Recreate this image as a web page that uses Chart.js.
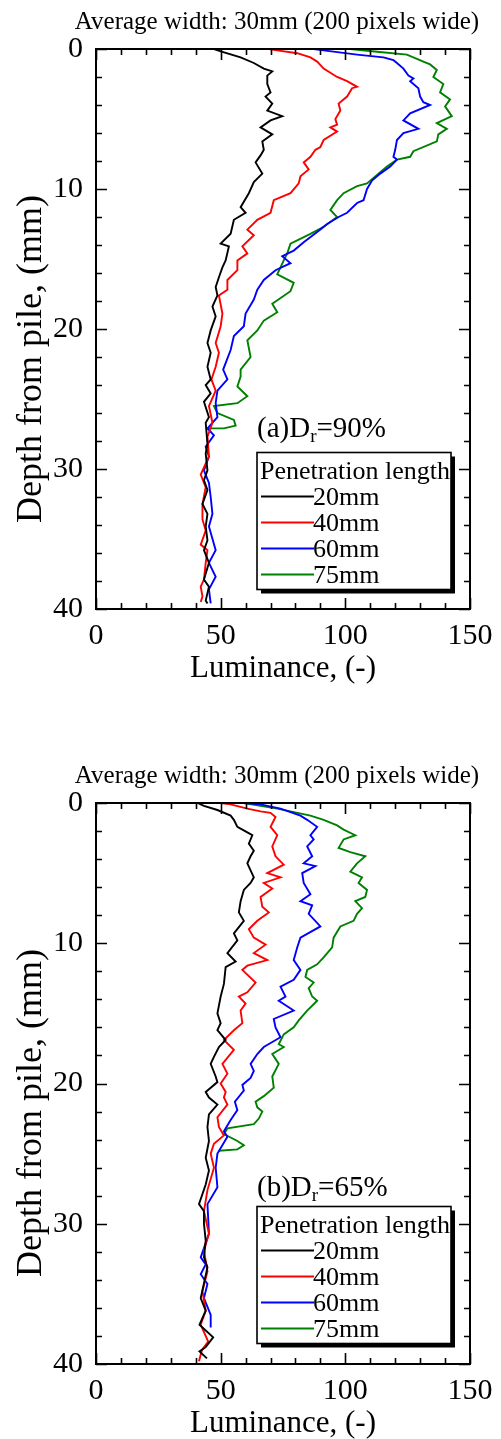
<!DOCTYPE html>
<html>
<head>
<meta charset="utf-8">
<script src="https://cdn.jsdelivr.net/npm/chart.js@4.4.1/dist/chart.umd.min.js"></script>
<style>
  html, body { margin: 0; padding: 0; background: #fff; }
  canvas { position: absolute; left: 0; }
  #chartA { top: 0; }
  #chartB { top: 720px; }
</style>
</head>
<body>
<canvas id="chartA" width="501" height="720"></canvas>
<canvas id="chartB" width="501" height="719"></canvas>
<script>
// Luminance profiles vs depth from pile, averaged over 30 mm (200 px) width.
const seriesLabels = ['20mm', '40mm', '60mm', '75mm'];
const seriesColors = ['#000000', '#ff0000', '#0000ff', '#008000'];
const xTickLabels = [0, 50, 100, 150];
const yTickLabels = [0, 10, 20, 30, 40];

// (a) Dr = 90%
const depthA20 = [0, 0.2, 0.6, 1.0, 1.4, 1.6, 1.9, 2.5, 3.1, 3.4, 3.9, 4.4, 4.8, 5.1, 5.6, 6.1, 6.6, 7.2, 7.6, 8.1, 8.9, 9.5, 10.3, 11.3, 11.7, 12.2, 13.2, 13.9, 14.1, 15.1, 15.6, 16.3, 17.0, 17.6, 18.4, 19.1, 20.1, 21.0, 21.7, 22.7, 23.6, 24.0, 24.6, 25.2, 26.3, 26.7, 28.2, 28.9, 30.1, 30.8, 31.5, 32.5, 33.2, 34.1, 35.1, 35.8, 36.7, 37.9, 38.4, 39.4, 39.6];
const lumA20 = [47.3, 50.7, 58.0, 63.3, 67.3, 70.7, 68.7, 68.7, 70.0, 68.0, 70.7, 68.7, 74.7, 70.0, 66.0, 70.7, 66.7, 67.3, 66.0, 64.0, 66.7, 63.3, 61.3, 58.0, 60.0, 55.3, 54.0, 50.0, 53.3, 52.0, 50.7, 49.3, 48.0, 48.7, 46.7, 48.0, 46.0, 44.7, 46.0, 44.7, 46.0, 44.0, 46.0, 43.3, 45.3, 44.0, 44.7, 44.0, 44.7, 43.3, 44.7, 42.7, 44.7, 44.0, 44.7, 43.3, 45.3, 43.3, 45.3, 44.0, 44.7];

const depthA40 = [0, 0.1, 0.3, 0.6, 0.9, 1.4, 2.0, 2.3, 2.7, 2.8, 3.4, 3.9, 4.4, 5.0, 5.4, 5.6, 5.9, 6.5, 7.0, 7.2, 7.7, 8.1, 8.6, 9.1, 9.6, 10.3, 10.8, 11.7, 12.2, 12.9, 13.3, 14.1, 14.6, 15.1, 15.8, 16.5, 17.2, 17.6, 18.9, 19.8, 21.0, 21.7, 22.7, 23.6, 24.4, 25.5, 26.7, 27.7, 29.1, 30.4, 31.3, 32.5, 33.6, 34.4, 35.4, 35.8, 36.7, 37.9, 38.4, 39.1, 39.5];
const lumA40 = [69.3, 72.7, 80.7, 86.0, 88.7, 91.3, 96.7, 100.7, 104.7, 102.7, 100.7, 97.3, 98.0, 96.0, 96.7, 94.0, 96.7, 91.3, 90.0, 88.0, 86.0, 83.3, 85.3, 82.0, 81.3, 78.0, 71.3, 70.0, 64.7, 60.7, 63.3, 58.7, 60.7, 56.7, 56.7, 52.7, 52.7, 49.3, 50.7, 50.0, 48.0, 49.3, 48.0, 46.3, 48.0, 45.3, 46.7, 44.7, 45.3, 42.0, 44.0, 42.7, 42.7, 44.0, 42.0, 44.7, 44.0, 43.3, 42.0, 42.7, 42.0];

const depthA60 = [0, 0.1, 0.4, 0.6, 0.8, 1.0, 1.4, 1.9, 2.1, 2.3, 2.8, 3.4, 3.8, 4.0, 4.6, 5.1, 5.7, 6.0, 6.5, 7.2, 7.7, 7.9, 8.4, 8.9, 9.4, 10.0, 10.8, 11.0, 11.7, 12.0, 12.5, 12.9, 13.8, 14.4, 14.8, 15.3, 15.8, 16.5, 17.2, 17.9, 18.9, 19.8, 20.5, 21.5, 22.9, 23.6, 24.4, 25.3, 26.3, 27.1, 27.6, 28.4, 29.1, 30.1, 31.0, 32.0, 33.2, 34.1, 35.8, 36.7, 37.7, 38.6, 39.6];
const lumA60 = [87.3, 91.3, 104.7, 115.3, 119.3, 120.7, 123.3, 125.3, 127.3, 126.0, 129.3, 130.0, 131.3, 134.0, 126.0, 123.3, 129.3, 123.3, 120.7, 120.0, 119.3, 120.7, 118.0, 114.0, 110.7, 108.7, 107.3, 104.7, 100.7, 97.3, 92.7, 90.0, 83.3, 79.3, 74.7, 78.0, 72.0, 67.3, 64.7, 63.3, 60.0, 59.3, 55.3, 54.0, 51.0, 52.7, 48.7, 48.0, 48.7, 44.7, 47.3, 44.0, 45.3, 43.3, 45.3, 46.0, 46.7, 45.3, 48.0, 45.3, 48.0, 45.3, 46.0];

const depthA75 = [0, 0.2, 0.4, 0.9, 1.1, 1.5, 2.0, 2.5, 3.1, 3.6, 4.1, 4.8, 5.3, 5.7, 6.1, 6.6, 7.3, 7.7, 7.9, 8.4, 9.0, 9.6, 9.8, 10.3, 10.8, 11.5, 12.0, 12.7, 13.2, 13.9, 14.6, 15.1, 16.1, 16.7, 17.3, 18.2, 18.8, 19.4, 20.1, 20.8, 22.0, 22.9, 23.4, 24.1, 24.8, 25.3, 25.5, 26.0, 26.5, 26.9, 27.1, 27.1];
const lumA75 = [102.0, 112.7, 124.7, 131.3, 134.0, 136.7, 135.3, 139.3, 138.0, 142.0, 140.0, 142.7, 136.7, 140.7, 137.3, 136.7, 127.3, 126.0, 120.7, 116.7, 112.7, 108.7, 104.7, 99.3, 96.7, 94.0, 96.7, 91.3, 86.0, 78.0, 76.7, 75.3, 72.7, 79.3, 78.0, 70.7, 72.7, 67.3, 64.7, 60.7, 62.0, 58.0, 58.0, 56.7, 60.7, 56.7, 47.3, 48.7, 55.3, 56.0, 51.3, 44.7];

// (b) Dr = 65%
const depthB20 = [0, 0.2, 0.5, 0.9, 1.2, 1.7, 2.1, 2.3, 2.9, 3.4, 3.8, 4.3, 4.8, 5.3, 5.7, 6.2, 7.0, 7.8, 8.4, 9.3, 9.8, 10.7, 11.3, 11.7, 12.9, 13.8, 15.0, 15.7, 16.2, 16.9, 17.4, 18.1, 18.6, 19.5, 19.9, 20.6, 21.0, 21.5, 22.2, 23.1, 24.1, 25.3, 26.2, 27.2, 28.6, 29.1, 30.0, 31.2, 32.4, 33.1, 35.3, 36.2, 37.2, 38.1, 38.8, 39.1, 39.6];
const lumB20 = [40.7, 43.3, 48.7, 54.0, 55.3, 56.7, 60.7, 62.7, 61.3, 63.3, 62.0, 60.7, 62.0, 63.3, 62.0, 59.3, 58.0, 57.3, 59.3, 55.3, 56.7, 52.7, 56.0, 52.0, 51.3, 50.0, 48.7, 50.0, 48.7, 52.0, 49.3, 47.3, 46.0, 48.0, 48.7, 44.0, 45.3, 48.7, 45.3, 44.7, 45.3, 44.0, 45.3, 44.0, 41.3, 43.3, 43.3, 44.0, 43.3, 44.7, 42.0, 44.0, 41.5, 47.0, 44.0, 41.5, 44.5];

const depthB40 = [0, 0.1, 0.4, 0.6, 0.7, 1.0, 1.7, 2.3, 3.1, 3.8, 4.4, 5.0, 5.3, 5.7, 6.1, 6.7, 7.4, 7.8, 8.4, 9.0, 9.6, 10.1, 10.7, 11.2, 11.6, 11.9, 12.8, 13.5, 13.8, 14.3, 14.8, 15.7, 16.2, 16.9, 17.6, 18.6, 19.3, 20.0, 20.6, 21.0, 21.5, 22.4, 23.1, 23.7, 24.3, 25.0, 26.0, 27.6, 29.1, 30.7, 31.9, 33.4, 34.8, 36.2, 37.2, 38.4, 39.0, 39.8];
const lumB40 = [50.0, 54.0, 60.7, 66.0, 70.0, 72.0, 70.0, 72.7, 70.7, 72.0, 75.3, 68.7, 74.0, 67.3, 70.7, 66.0, 66.7, 69.3, 64.7, 61.3, 63.3, 68.0, 63.3, 68.7, 60.7, 58.7, 64.0, 60.7, 57.3, 60.0, 58.0, 58.7, 55.3, 51.3, 55.3, 50.7, 52.7, 50.0, 52.0, 51.3, 52.7, 48.7, 49.3, 51.3, 47.3, 46.0, 47.3, 44.7, 43.3, 45.3, 43.3, 44.7, 42.7, 44.0, 42.0, 45.0, 42.5, 41.3];

const depthB60 = [0, 0.1, 0.4, 0.9, 1.2, 1.7, 2.3, 2.6, 3.1, 3.8, 4.3, 4.5, 5.0, 5.7, 6.5, 7.0, 7.3, 7.9, 8.8, 9.6, 10.3, 11.2, 11.9, 12.6, 13.1, 13.8, 14.1, 14.8, 15.4, 16.0, 16.7, 17.4, 17.9, 18.6, 19.1, 19.6, 20.1, 20.5, 21.3, 21.9, 22.6, 23.4, 23.8, 25.0, 26.0, 27.4, 28.6, 30.7, 32.4, 32.9, 33.6, 34.3, 35.3, 36.5, 37.4];
const lumB60 = [59.3, 66.0, 74.0, 82.0, 84.7, 88.7, 86.0, 87.3, 84.7, 86.7, 83.3, 88.0, 82.7, 83.3, 86.0, 82.0, 86.7, 85.3, 90.0, 82.0, 80.7, 79.3, 82.0, 79.3, 74.0, 76.0, 73.3, 79.3, 71.3, 72.0, 74.0, 67.3, 64.7, 62.0, 63.3, 62.0, 58.7, 59.3, 55.7, 56.7, 54.0, 51.3, 52.7, 48.7, 48.0, 48.7, 44.7, 45.3, 42.0, 44.0, 42.0, 44.7, 43.3, 46.0, 46.0];

const depthB75 = [0, 0.4, 0.9, 1.2, 1.6, 1.9, 2.3, 2.6, 3.2, 3.5, 3.8, 4.3, 4.9, 5.3, 5.7, 6.2, 6.7, 7.0, 7.5, 7.9, 8.4, 8.8, 9.6, 10.3, 11.0, 11.5, 11.9, 12.4, 12.8, 13.2, 13.8, 14.1, 14.8, 15.5, 16.0, 16.5, 17.2, 17.4, 17.9, 18.6, 19.5, 20.3, 20.9, 21.3, 21.7, 22.0, 22.5, 22.9, 23.2, 23.6, 24.1, 24.4, 24.7, 24.8];
const lumB75 = [59.3, 72.7, 86.0, 91.3, 96.7, 99.3, 104.0, 99.3, 97.3, 102.0, 108.0, 104.7, 102.0, 106.7, 105.3, 108.7, 108.0, 104.0, 106.7, 104.7, 103.3, 98.0, 95.3, 94.7, 91.3, 88.7, 84.7, 84.0, 87.3, 85.3, 86.7, 88.7, 84.7, 81.3, 79.3, 75.3, 73.3, 75.3, 70.7, 73.3, 70.7, 71.3, 67.3, 64.0, 64.7, 66.7, 65.3, 63.3, 52.7, 51.3, 56.7, 59.3, 56.7, 49.3];

const SERIF = '"Liberation Serif", "Times New Roman", serif';

function zip(lum, depth) {
    return lum.map((v, i) => ({ x: v, y: depth[i] }));
}

// frame, inward ticks on all four sides, titles, panel tag and boxed legend
const frameAndLabels = {
    id: 'frameAndLabels',
    afterDraw(chart, args, opts) {
        const { ctx, chartArea: a, scales: { x, y } } = chart;
        ctx.save();

        ctx.strokeStyle = '#000';
        ctx.lineWidth = 1.6;
        ctx.beginPath();
        y.ticks.forEach(t => {
            const py = Math.round(y.getPixelForValue(t.value)) + 0.5;
            const len = yTickLabels.includes(t.value) ? 11 : 6;
            ctx.moveTo(a.left, py); ctx.lineTo(a.left + len, py);
            ctx.moveTo(a.right, py); ctx.lineTo(a.right - len, py);
        });
        x.ticks.forEach(t => {
            const px = Math.round(x.getPixelForValue(t.value)) + 0.5;
            const len = xTickLabels.includes(t.value) ? 11 : 6;
            ctx.moveTo(px, a.bottom); ctx.lineTo(px, a.bottom - len);
            ctx.moveTo(px, a.top); ctx.lineTo(px, a.top + len);
        });
        ctx.stroke();
        ctx.lineWidth = 2;
        ctx.strokeRect(a.left, a.top, a.right - a.left, a.bottom - a.top);

        ctx.fillStyle = '#000';
        ctx.textBaseline = 'alphabetic';

        // heading above the plot
        ctx.font = '25px ' + SERIF;
        ctx.textAlign = 'center';
        ctx.fillText(opts.heading, 277, a.top - 20);

        // x axis title
        ctx.font = '31px ' + SERIF;
        ctx.fillText('Luminance, (-)', (a.left + a.right) / 2, a.bottom + 68);

        // y axis title
        ctx.save();
        ctx.translate(41, a.top + opts.yTitleMid);
        ctx.rotate(-Math.PI / 2);
        ctx.font = '36px ' + SERIF;
        ctx.fillText('Depth from pile, (mm)', 0, 0);
        ctx.restore();

        // legend box with drop shadow
        const lx = a.left + 161, ly = a.top + 403.5, lw = 194, lh = 137;
        ctx.fillRect(lx + 4, ly + 4, lw, lh);
        ctx.fillStyle = '#fff';
        ctx.fillRect(lx, ly, lw, lh);
        ctx.strokeStyle = '#000';
        ctx.lineWidth = 1.6;
        ctx.strokeRect(lx, ly, lw, lh);

        ctx.fillStyle = '#000';
        ctx.textAlign = 'left';
        ctx.font = '26px ' + SERIF;
        ctx.fillText('Penetration length', lx + 3, ly + 26);
        chart.data.datasets.forEach((ds, i) => {
            const ry = ly + 44 + i * 26;
            ctx.strokeStyle = ds.borderColor;
            ctx.lineWidth = 1.8;
            ctx.beginPath();
            ctx.moveTo(lx + 4, ry);
            ctx.lineTo(lx + 57, ry);
            ctx.stroke();
            ctx.fillText(ds.label, lx + 56, ry + 8);
        });

        // panel tag, e.g. (a)D_r=90%
        let px = lx;
        const py = a.top + opts.tagY;
        ctx.font = '29px ' + SERIF;
        const head = opts.panel + 'D';
        ctx.fillText(head, px, py);
        px += ctx.measureText(head).width;
        ctx.font = '19px ' + SERIF;
        ctx.fillText('r', px, py + 5);
        px += ctx.measureText('r').width;
        ctx.font = '29px ' + SERIF;
        ctx.fillText('=' + opts.dr, px, py);

        ctx.restore();
    }
};

function makeChart(canvasId, depths, lums, plotTop, xHeight, tag) {
    const canvas = document.getElementById(canvasId);
    const ctx = canvas.getContext('2d');
    return new Chart(ctx, {
        type: 'scatter',
        data: {
            datasets: seriesLabels.map((label, i) => ({
                label: label,
                data: zip(lums[i], depths[i]),
                showLine: true,
                borderColor: seriesColors[i],
                backgroundColor: seriesColors[i],
                borderWidth: 1.9,
                pointRadius: 0,
                tension: 0
            }))
        },
        options: {
            responsive: false,
            animation: false,
            devicePixelRatio: 1,
            layout: { padding: { left: 0, top: plotTop, right: 31, bottom: 0 } },
            plugins: {
                legend: { display: false },
                tooltip: { enabled: false },
                frameAndLabels: tag
            },
            scales: {
                x: {
                    type: 'linear',
                    min: 0,
                    max: 150,
                    grid: { display: false },
                    border: { display: false },
                    ticks: {
                        stepSize: 10,
                        autoSkip: false,
                        maxRotation: 0,
                        padding: 1,
                        color: '#000',
                        font: { family: SERIF, size: 30 },
                        callback: v => xTickLabels.includes(v) ? v : ''
                    },
                    afterFit: scale => { scale.height = xHeight; }
                },
                y: {
                    type: 'linear',
                    min: 0,
                    max: 40,
                    reverse: true,
                    grid: { display: false },
                    border: { display: false },
                    ticks: {
                        stepSize: 2,
                        autoSkip: false,
                        padding: 5,
                        color: '#000',
                        font: { family: SERIF, size: 30 },
                        callback: v => yTickLabels.includes(v) ? v : ''
                    },
                    afterFit: scale => { scale.width = 96; }
                }
            }
        },
        plugins: [frameAndLabels]
    });
}

makeChart('chartA',
    [depthA20, depthA40, depthA60, depthA75],
    [lumA20, lumA40, lumA60, lumA75],
    49, 111,
    { heading: 'Average width: 30mm (200 pixels wide)', panel: '(a)', dr: '90%', tagY: 388, yTitleMid: 310 });

makeChart('chartB',
    [depthB20, depthB40, depthB60, depthB75],
    [lumB20, lumB40, lumB60, lumB75],
    83, 75,
    { heading: 'Average width: 30mm (200 pixels wide)', panel: '(b)', dr: '65%', tagY: 393, yTitleMid: 310 });
</script>
</body>
</html>
